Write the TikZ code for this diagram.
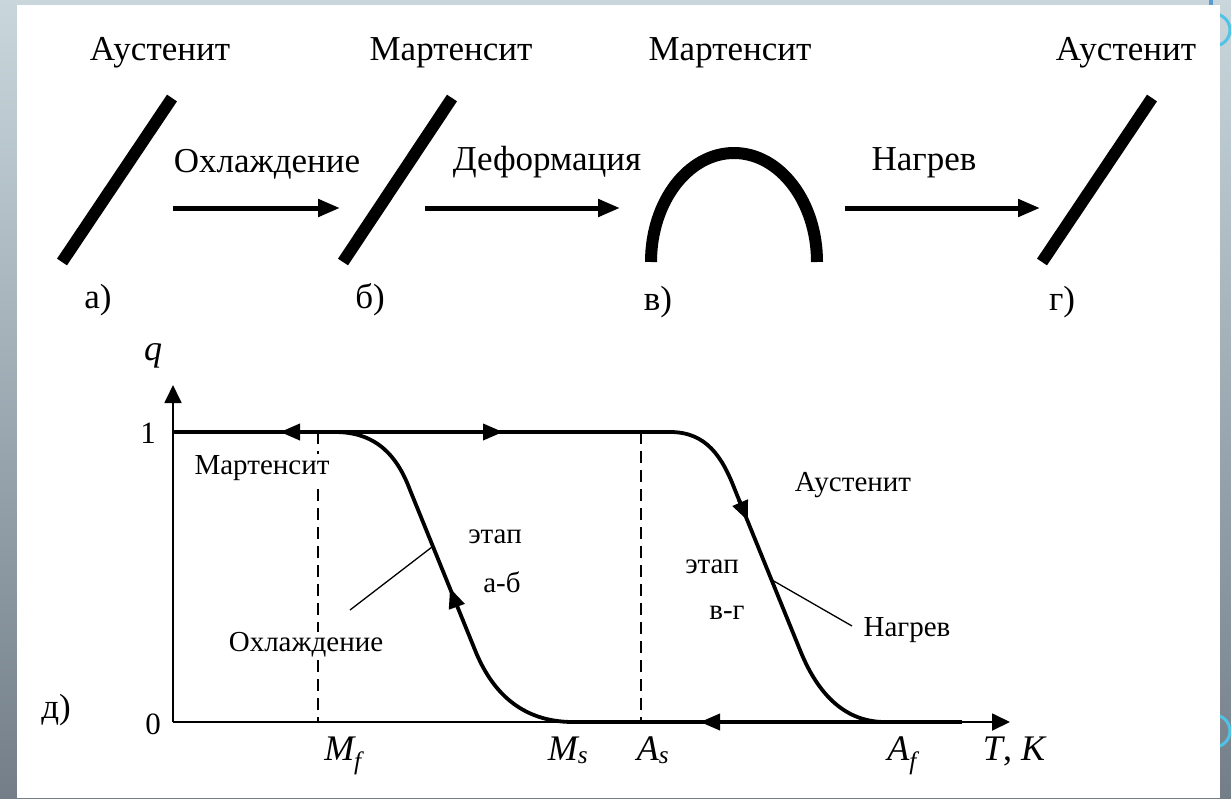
\documentclass[tikz,border=0pt]{standalone}
\usepackage{fontspec}
\setmainfont{Liberation Serif}[Ligatures=TeX]
\newfontfamily\tnr{Liberation Serif}
\usetikzlibrary{arrows.meta}
\definecolor{bgtop}{HTML}{C9D7DD}
\definecolor{bgbot}{HTML}{737E89}
\definecolor{ringc}{HTML}{4FC3E6}
\definecolor{barc}{HTML}{5B9BD5}
\begin{document}
\begin{tikzpicture}[x=1pt,y=-1pt,
  strip/.style={line width=12pt},
  bigarrow/.style={line width=5pt,-{Triangle[length=22pt,width=17pt]}},
  toplabel/.style={font=\tnr\fontsize{35}{40}\selectfont,inner sep=0pt,anchor=base},
  glabel/.style={font=\tnr\fontsize{29}{34}\selectfont,inner sep=1pt},
  axisline/.style={line width=1.8pt,-{Triangle[length=18pt,width=17pt]}},
  curveline/.style={line width=3.8pt},
  tipmark/.style={line width=3.8pt,-{Triangle[length=20pt,width=16pt]}},
  dashline/.style={line width=1.6pt,dash pattern=on 12pt off 7pt},
  leadline/.style={line width=1.3pt},
  sym/.style={font=\tnr\fontsize{36}{40}\selectfont\itshape,inner sep=0pt,anchor=base},
]
\useasboundingbox (0,0) rectangle (1231,798);
% slide background
\shade[top color=bgtop,bottom color=bgbot] (0,0) rectangle (1231,798);
\draw[ringc,line width=3pt] (1214,30) circle (16);
\draw[ringc,line width=3pt] (1214,731) circle (16);
\fill[white] (17,5) rectangle (1220,798);
\fill[barc] (1209,0) rectangle (1213,5);

% ---------- top row ----------
\node[toplabel] (tA1) at (160,60) {Аустенит};
\node[toplabel] (tM2) at (451,60) {Мартенсит};
\node[toplabel] (tM3) at (730,60) {Мартенсит};
\node[toplabel] (tA4) at (1126,60) {Аустенит};

\coordinate (sa1) at (62,262);  \coordinate (sa2) at (172,98);
\coordinate (sb1) at (343,262); \coordinate (sb2) at (452,98);
\coordinate (sg1) at (1042,262);\coordinate (sg2) at (1152,98);
\coordinate (sv1) at (651,262);
\draw[strip] (sa1) -- (sa2);
\draw[strip] (sb1) -- (sb2);
\draw[strip] (sg1) -- (sg2);
\draw[strip] (sv1) arc[start angle=180,end angle=360,x radius=83,y radius=109];

\coordinate (a1s) at (173,208); \coordinate (a1e) at (340,208);
\coordinate (a2s) at (425,208); \coordinate (a2e) at (620,208);
\coordinate (a3s) at (845,208); \coordinate (a3e) at (1040,208);
\draw[bigarrow] (a1s) -- (a1e);
\draw[bigarrow] (a2s) -- (a2e);
\draw[bigarrow] (a3s) -- (a3e);
\node[toplabel] (l1) at (267,172) {Охлаждение};
\node[toplabel] (l2) at (547,170) {Деформация};
\node[toplabel] (l3) at (924,170) {Нагрев};

\node[toplabel] (ca) at (98,308) {а)};
\node[toplabel] (cb) at (370,308) {б)};
\node[toplabel] (cv) at (658,310) {в)};
\node[toplabel] (cg) at (1062,310) {г)};

% ---------- graph ----------
\coordinate (O) at (173,722);
\coordinate (Ytop) at (173,385);
\coordinate (Xend) at (1010,722);
\coordinate (T0) at (173,432);
\coordinate (Tend) at (670,432);
\coordinate (Ms) at (573,722);
\coordinate (Af) at (885,722);
\coordinate (Bend) at (962,722);

% dashed verticals
\draw[dashline] (318,432) -- (318,722);
\draw[dashline] (641,432) -- (641,722);

% axes
\draw[axisline] (O) -- (Ytop);
\draw[axisline] (O) -- (Xend);

% thick lines
\draw[curveline] (T0) -- (Tend);
\draw[curveline] (Ms) -- (Bend);
% cooling curve
\coordinate (c0) at (335,432);
\coordinate (c1) at (410,490);
\coordinate (c2) at (475,650);
\draw[curveline] (c0) .. controls (378,432) and (398,458) .. (c1) -- (c2)
   .. controls (491,690) and (520,722) .. (Ms);
% heating curve
\coordinate (h1) at (735,490);
\coordinate (h2) at (800,650);
\draw[curveline] (Tend) .. controls (706,432) and (722,456) .. (h1) -- (h2)
   .. controls (816,690) and (842,722) .. (Af);

% direction marks
\coordinate (m1s) at (312,432); \coordinate (m1e) at (280,432);
\coordinate (m2s) at (470,432); \coordinate (m2e) at (503,432);
\coordinate (m3s) at (732,722); \coordinate (m3e) at (700,722);
\coordinate (m4s) at (458,610); \coordinate (m4e) at (450,588);
\coordinate (m5s) at (739,500); \coordinate (m5e) at (748,521);
\draw[tipmark] (m1s) -- (m1e);
\draw[tipmark] (m2s) -- (m2e);
\draw[tipmark] (m3s) -- (m3e);
\draw[tipmark,shorten <=4pt] (m4s) -- (m4e);
\draw[tipmark] (m5s) -- (m5e);

% labels in graph
\node[glabel,fill=white] (gM) at (262,468) {Мартенсит};
\node[glabel,fill=white] (gO) at (306,645) {Охлаждение};
\node[glabel] (gE1) at (495,537) {этап};
\node[glabel] (gE2) at (502,582) {а-б};
\node[glabel] (gA) at (853,485) {Аустенит};
\node[glabel] (gE3) at (712,567) {этап};
\node[glabel] (gE4) at (727,613) {в-г};
\node[glabel] (gN) at (907,630) {Нагрев};

\coordinate (p1) at (432,547); \coordinate (q1) at (350,610);
\coordinate (p2) at (772,580); \coordinate (q2) at (852,626);
\draw[leadline] (p1) -- (q1);
\draw[leadline] (p2) -- (q2);

% axis labels
\node[sym] (qq) at (153,360) {q};
\node[font=\tnr\fontsize{31}{34}\selectfont,inner sep=0pt] (one) at (148,433) {1};
\node[font=\tnr\fontsize{31}{34}\selectfont,inner sep=0pt] (zero) at (153,724) {0};
\node[toplabel] (dd) at (56,718) {д)};
\node[sym] (lMf) at (343,760) {M\textsubscript{\itshape f}};
\node[sym] (lMs) at (568,760) {M\textsubscript{\itshape s}};
\node[sym] (lAs) at (653,760) {A\textsubscript{\itshape s}};
\node[sym] (lAf) at (902,760) {A\textsubscript{\itshape f}};
\node[sym] (lTK) at (1014,760) {T\upshape, \itshape K};
\end{tikzpicture}
\end{document}
